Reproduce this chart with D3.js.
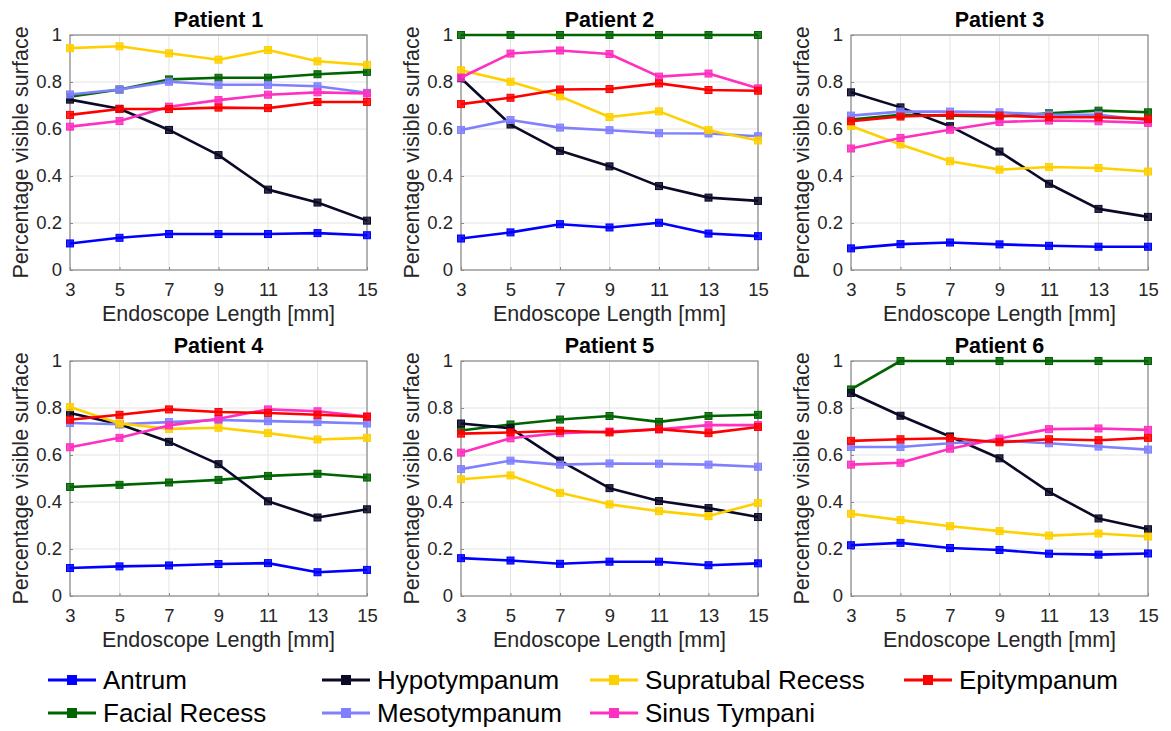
<!DOCTYPE html>
<html>
<head>
<meta charset="utf-8">
<script src="https://cdn.jsdelivr.net/npm/d3@7"></script>
<style>
  html, body { margin: 0; padding: 0; background: #fff; }
  svg { display: block; font-family: "Liberation Sans", Arial, Helvetica, sans-serif; }
</style>
</head>
<body>
<svg id="chart" width="1171" height="731"></svg>
<script>
// ---------- data ----------
const lengths = [3, 5, 7, 9, 11, 13, 15];
const xTicks = [3, 5, 7, 9, 11, 13, 15];
const yTicks = [0, 0.2, 0.4, 0.6, 0.8, 1];
const patients = ["Patient 1", "Patient 2", "Patient 3", "Patient 4", "Patient 5", "Patient 6"];
const regions = ["Antrum", "Facial Recess", "Hypotympanum", "Mesotympanum", "Supratubal Recess", "Sinus Tympani", "Epitympanum"];
const regionColors = ["#0000ff", "#006400", "#0a0a28", "#8080ff", "#ffd000", "#ff2fbf", "#ff0000"];

// values per patient, per region (order as in `regions`)
const antrum = [
  [0.113, 0.137, 0.153, 0.153, 0.153, 0.157, 0.148],
  [0.134, 0.160, 0.195, 0.181, 0.201, 0.155, 0.144],
  [0.092, 0.110, 0.117, 0.109, 0.103, 0.099, 0.099],
  [0.119, 0.126, 0.130, 0.136, 0.140, 0.101, 0.111],
  [0.161, 0.151, 0.137, 0.146, 0.146, 0.131, 0.139],
  [0.216, 0.226, 0.204, 0.196, 0.180, 0.176, 0.181]
];
const facialRecess = [
  [0.737, 0.768, 0.811, 0.818, 0.818, 0.833, 0.843],
  [1, 1, 1, 1, 1, 1, 1],
  [0.640, 0.660, 0.657, 0.653, 0.667, 0.678, 0.671],
  [0.464, 0.473, 0.483, 0.494, 0.511, 0.520, 0.504],
  [0.704, 0.730, 0.751, 0.766, 0.741, 0.766, 0.771],
  [0.879, 1, 1, 1, 1, 1, 1]
];
const hypotympanum = [
  [0.725, 0.686, 0.596, 0.489, 0.342, 0.287, 0.210],
  [0.816, 0.619, 0.507, 0.441, 0.357, 0.308, 0.294],
  [0.756, 0.692, 0.612, 0.504, 0.367, 0.260, 0.226],
  [0.779, 0.731, 0.656, 0.561, 0.403, 0.334, 0.369],
  [0.734, 0.714, 0.576, 0.459, 0.404, 0.374, 0.336],
  [0.864, 0.767, 0.679, 0.586, 0.443, 0.330, 0.284]
];
const mesotympanum = [
  [0.747, 0.768, 0.801, 0.788, 0.788, 0.782, 0.754],
  [0.596, 0.638, 0.606, 0.595, 0.582, 0.581, 0.569],
  [0.657, 0.674, 0.674, 0.671, 0.661, 0.660, 0.637],
  [0.736, 0.731, 0.740, 0.749, 0.744, 0.740, 0.734],
  [0.540, 0.576, 0.559, 0.564, 0.563, 0.559, 0.550],
  [0.634, 0.634, 0.650, 0.661, 0.650, 0.636, 0.623]
];
const supratubalRecess = [
  [0.944, 0.952, 0.922, 0.895, 0.936, 0.888, 0.873],
  [0.850, 0.801, 0.739, 0.651, 0.675, 0.595, 0.551],
  [0.613, 0.534, 0.463, 0.427, 0.438, 0.434, 0.419],
  [0.804, 0.734, 0.711, 0.716, 0.693, 0.666, 0.673],
  [0.497, 0.513, 0.439, 0.390, 0.361, 0.340, 0.396],
  [0.350, 0.323, 0.297, 0.276, 0.257, 0.266, 0.253]
];
const sinusTympani = [
  [0.610, 0.634, 0.695, 0.723, 0.746, 0.756, 0.751],
  [0.819, 0.921, 0.934, 0.919, 0.823, 0.836, 0.773],
  [0.517, 0.562, 0.597, 0.630, 0.636, 0.633, 0.626],
  [0.633, 0.673, 0.726, 0.754, 0.794, 0.786, 0.764],
  [0.610, 0.671, 0.693, 0.700, 0.709, 0.727, 0.727],
  [0.559, 0.567, 0.627, 0.670, 0.710, 0.713, 0.707]
];
const epitympanum = [
  [0.660, 0.685, 0.685, 0.691, 0.689, 0.715, 0.715],
  [0.706, 0.733, 0.768, 0.770, 0.794, 0.766, 0.763],
  [0.633, 0.653, 0.660, 0.657, 0.650, 0.650, 0.643],
  [0.750, 0.771, 0.794, 0.783, 0.779, 0.771, 0.763],
  [0.691, 0.696, 0.703, 0.696, 0.710, 0.693, 0.719],
  [0.660, 0.667, 0.671, 0.654, 0.667, 0.663, 0.673]
];
const seriesByRegion = [antrum, facialRecess, hypotympanum, mesotympanum, supratubalRecess, sinusTympani, epitympanum];

// ---------- layout ----------
const svg = d3.select("#chart");
const colLeft = [70, 461, 851];
const rowTop = [35, 361];
const pw = 297, ph = 235;

const x = d3.scaleLinear().domain([3, 15]).range([0, pw]);
const y = d3.scaleLinear().domain([0, 1]).range([ph, 0]);
const fmt = d => d === 0 ? "0" : d === 1 ? "1" : d3.format(".1f")(d);

patients.forEach((name, pi) => {
  const g = svg.append("g")
    .attr("transform", `translate(${colLeft[pi % 3]},${rowTop[Math.floor(pi / 3)]})`);

  // grid
  g.append("g").selectAll("line.gx").data(xTicks).join("line")
    .attr("x1", d => x(d)).attr("x2", d => x(d)).attr("y1", 0).attr("y2", ph)
    .attr("stroke", "#e3e3e3").attr("stroke-width", 1);
  g.append("g").selectAll("line.gy").data(yTicks).join("line")
    .attr("x1", 0).attr("x2", pw).attr("y1", d => y(d)).attr("y2", d => y(d))
    .attr("stroke", "#e3e3e3").attr("stroke-width", 1);

  // axes
  const xa = g.append("g").attr("transform", `translate(0,${ph})`)
    .call(d3.axisBottom(x).tickValues(xTicks).tickSizeInner(-3).tickSizeOuter(0).tickPadding(13));
  const ya = g.append("g")
    .call(d3.axisLeft(y).tickValues(yTicks).tickFormat(fmt).tickSizeInner(-3).tickSizeOuter(0).tickPadding(8));
  [xa, ya].forEach(a => {
    a.select(".domain").remove();
    a.selectAll(".tick line").attr("stroke", "#8a8a8a");
    a.selectAll(".tick text").attr("fill", "#262626").style("font-size", "18.5px");
  });
  // box
  g.append("rect").attr("x", 0).attr("y", 0).attr("width", pw).attr("height", ph)
    .attr("fill", "none").attr("stroke", "#8a8a8a").attr("stroke-width", 1.2);

  // series
  const line = d3.line().x((d, i) => x(lengths[i])).y(d => y(d));
  regions.forEach((r, ri) => {
    const vals = seriesByRegion[ri][pi];
    const c = regionColors[ri];
    g.append("path").datum(vals).attr("d", line)
      .attr("fill", "none").attr("stroke", c).attr("stroke-width", 2.6)
      .attr("stroke-linejoin", "round");
    g.append("g").selectAll("rect").data(vals).join("rect")
      .attr("x", (d, i) => x(lengths[i]) - 3.5).attr("y", d => y(d) - 3.5)
      .attr("width", 7).attr("height", 7)
      .attr("fill", c).attr("fill-opacity", 0.85).attr("stroke", c).attr("stroke-width", 1);
  });

  // title
  g.append("text").attr("x", pw / 2).attr("y", -8).attr("text-anchor", "middle")
    .style("font-size", "21.5px").style("font-weight", "bold").attr("fill", "#000").text(name);
  // x label
  g.append("text").attr("x", pw / 2).attr("y", ph + 51).attr("text-anchor", "middle")
    .style("font-size", "21.5px").attr("fill", "#262626").text("Endoscope Length [mm]");
  // y label
  g.append("text").attr("transform", `translate(-42,${ph / 2}) rotate(-90)`).attr("text-anchor", "middle")
    .style("font-size", "21.5px").attr("fill", "#262626").text("Percentage visible surface");
});

// ---------- legend ----------
const legendPos = [
  [48, 680], [48, 713], [322, 680], [322, 713], [590, 680], [590, 713], [904, 680]
];
regions.forEach((r, ri) => {
  const [lx, ly] = legendPos[ri];
  const c = regionColors[ri];
  const lg = svg.append("g").attr("transform", `translate(${lx},${ly})`);
  lg.append("line").attr("x1", 0).attr("x2", 48).attr("y1", 0).attr("y2", 0)
    .attr("stroke", c).attr("stroke-width", 3);
  lg.append("rect").attr("x", 19).attr("y", -5).attr("width", 10).attr("height", 10).attr("fill", c);
  lg.append("text").attr("x", 55).attr("y", 0).attr("dy", "0.35em")
    .style("font-size", "26px").attr("fill", "#000").text(r);
});
</script>
</body>
</html>
